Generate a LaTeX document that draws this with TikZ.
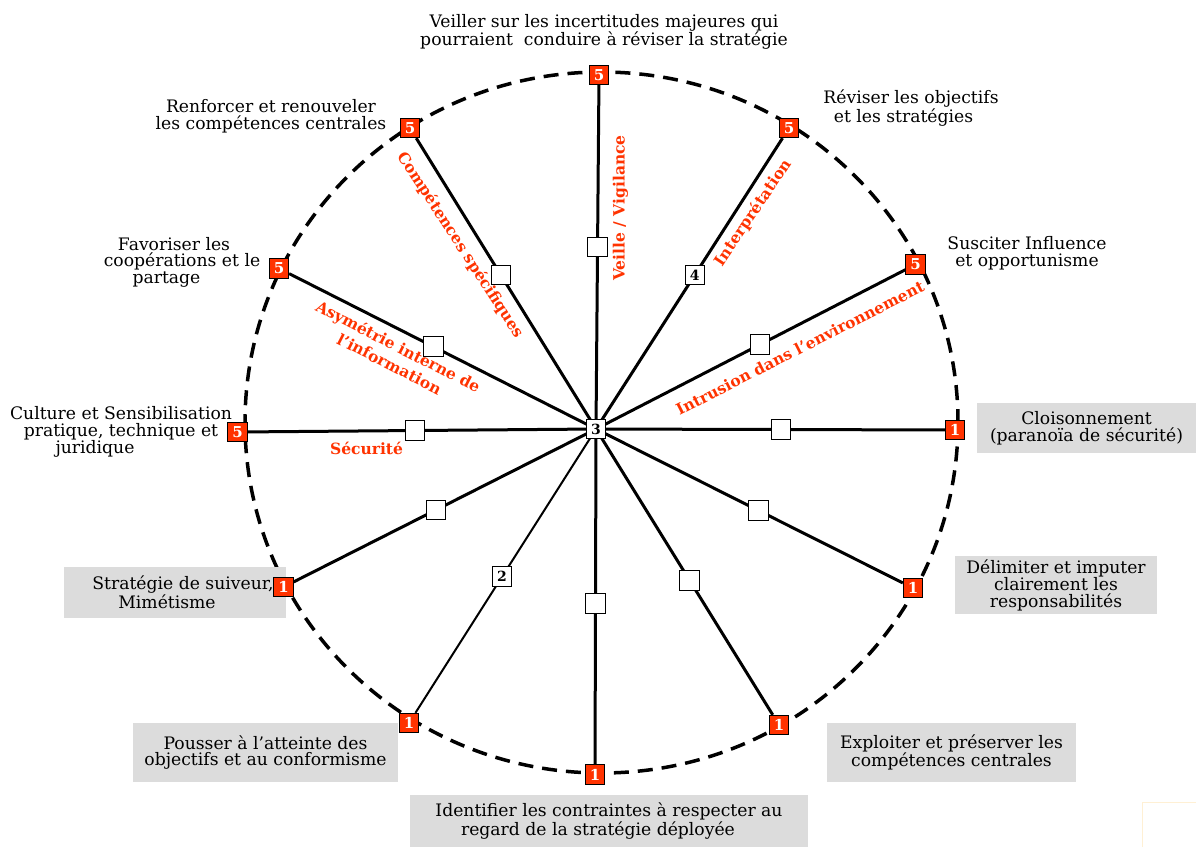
\documentclass[tikz,border=0pt]{standalone}
\usepackage{fontspec}
\setmainfont{DejaVu Serif}
\definecolor{myred}{RGB}{255,51,0}
\definecolor{mygray}{RGB}{220,220,220}
\definecolor{faint}{RGB}{255,240,212}
\begin{document}
\begin{tikzpicture}[x=1pt,y=-1pt,
  spoke/.style={line width=3pt, black},
  rbox/.style={draw=black, line width=0.8pt, fill=myred, minimum size=19.5pt, inner sep=0pt, text=white, font=\fontsize{15}{15}\selectfont\bfseries},
  wbox/.style={draw=black, line width=0.9pt, fill=white, minimum size=19.5pt, inner sep=0pt, text=black, font=\fontsize{14}{14}\selectfont\bfseries},
  lbl/.style={font=\fontsize{17.2}{16.5}\selectfont, align=center, inner sep=0pt},
  gbox/.style={fill=mygray, font=\fontsize{17.2}{16.5}\selectfont, align=center, inner sep=0pt},
  rlbl/.style={text=myred, font=\fontsize{15.5}{19.5}\selectfont\bfseries, align=center, inner sep=0pt}]
\useasboundingbox (0,0) rectangle (1196,847);
\fill[white] (0,0) rectangle (1196,847);
% dashed circle
\draw[line width=3.5pt, dash pattern=on 15pt off 9pt] (601.5,422.5) ellipse [x radius=356.5, y radius=350.5];
% gray boxes
\node[gbox, minimum width=219pt, minimum height=50pt] (g4) at (1086.5,428) {Cloisonnement\\(paranoïa de sécurité)};
\node[gbox, minimum width=202pt, minimum height=58pt] (g5) at (1056,585) {Délimiter et imputer\\clairement les\\responsabilités};
\node[gbox, minimum width=249pt, minimum height=59pt] (g6) at (951.5,752.5) {Exploiter et préserver les\\compétences centrales};
\node[gbox, minimum width=398pt, minimum height=52pt] (g7) at (609,821) {Identifier les contraintes à respecter au\\regard de la stratégie déployée\hspace*{22pt}};
\node[gbox, minimum width=265pt, minimum height=59pt] (g8) at (265.5,752.5) {Pousser à l’atteinte des\\objectifs et au conformisme};
\node[gbox, minimum width=222pt, minimum height=51pt] (g9) at (175,592.5) {\hspace*{16pt}Stratégie de suiveur,\\Mimétisme\hspace*{16pt}};
% end boxes
\coordinate (O) at (596,429);
\node[rbox] (r1) at (599,75) {5};
\node[rbox] (r2) at (789,128) {5};
\node[rbox] (r3) at (915.5,264.5) {5};
\node[rbox] (r4) at (955,430) {1};
\node[rbox] (r5) at (913,588) {1};
\node[rbox] (r6) at (779,725) {1};
\node[rbox] (r7) at (595,774.5) {1};
\node[rbox] (r8) at (409,723) {1};
\node[rbox] (r9) at (283.5,587) {1};
\node[rbox] (r10) at (237.5,432) {5};
\node[rbox] (r11) at (279,268.5) {5};
\node[rbox] (r12) at (410,128) {5};
% spokes with mid boxes
\draw[spoke] (O) -- node[wbox,pos=0.53] (m1) {} (r1);
\draw[spoke] (O) -- node[wbox,pos=0.53] (m2) {4} (r2);
\draw[spoke] (O) -- node[wbox,pos=0.53] (m3) {} (r3);
\draw[spoke] (O) -- node[wbox,pos=0.53] (m4) {} (r4);
\draw[spoke] (O) -- node[wbox,pos=0.53] (m5) {} (r5);
\draw[spoke] (O) -- node[wbox,pos=0.53] (m6) {} (r6);
\draw[spoke] (O) -- node[wbox,pos=0.52] (m7) {} (r7);
\draw[spoke, line width=2pt] (O) -- node[wbox,pos=0.52] (m8) {2} (r8);
\draw[spoke] (O) -- node[wbox,pos=0.53] (m9) {} (r9);
\draw[spoke] (O) -- node[wbox,pos=0.52] (m10) {} (r10);
\draw[spoke] (O) -- node[wbox,pos=0.53] (m11) {} (r11);
\draw[spoke] (O) -- node[wbox,pos=0.53] (m12) {} (r12);
\node[wbox] (c) at (O) {3};
% red axis labels
\node[rlbl, rotate=90] (a1) at (620.5,208) {Veille / Vigilance};
\node[rlbl, rotate=56] (a2) at (753,213) {Interprétation};
\node[rlbl, rotate=27] (a3) at (800,348) {Intrusion dans l’environnement};
\node[rlbl] (a4) at (366.5,448) {Sécurité};
\node[rlbl, rotate=-27] (a5) at (394,355) {Asymétrie interne de\\l’information};
\node[rlbl, rotate=-57] (a6) at (460,245) {Compétences spécifiques};
% black labels
\node[lbl] (t1) at (604,32) {Veiller sur les incertitudes majeures qui\\pourraient\ \ conduire à réviser la stratégie};
\node[lbl] (t2) at (911,108) {Réviser les objectifs\\et les stratégies\hspace*{15pt}};
\node[lbl] (t3) at (1027,253) {Susciter Influence\\et opportunisme};
\node[lbl] (t12) at (271,116) {Renforcer et renouveler\\les compétences centrales};
\node[lbl] (t11) at (182,262) {Favoriser les\hspace*{16pt}\\coopérations et le\\partage\hspace*{31pt}};
\node[lbl] (t10) at (121,432) {Culture et Sensibilisation\\pratique, technique et\hspace*{13pt}\\juridique\hspace*{52pt}};
% faint frame bottom right
\draw[faint, line width=1pt] (1142,847) -- (1142,802) -- (1196,802);
\end{tikzpicture}
\end{document}
